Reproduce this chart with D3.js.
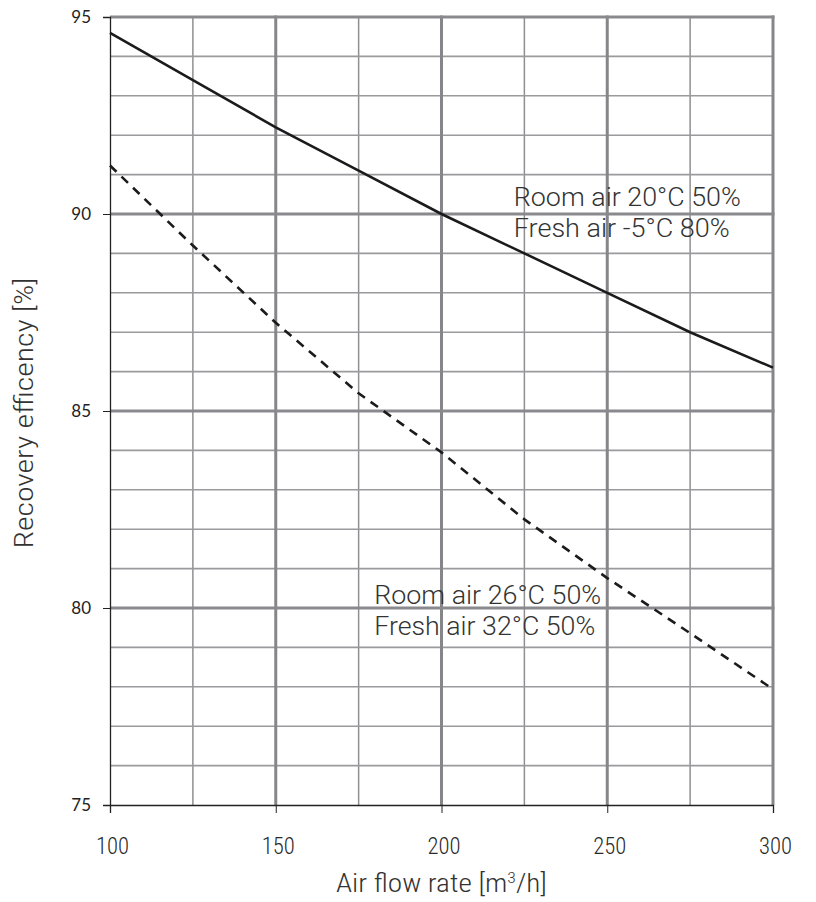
<!DOCTYPE html>
<html>
<head>
<meta charset="utf-8">
<script src="https://cdn.jsdelivr.net/npm/d3@7"></script>
<style>
  html, body { margin: 0; padding: 0; background: #fff; }
  svg { display: block; }
</style>
</head>
<body>
<svg id="chart" width="816" height="902"></svg>
<script>
// ---- data ----
const flowRates = [100, 125, 150, 175, 200, 225, 250, 275, 300];
const winterEfficiency = [94.6, 93.4, 92.2, 91.1, 90.0, 89.0, 88.0, 87.0, 86.1];
const summerEfficiency = [91.23, 89.2, 87.24, 85.45, 83.95, 82.25, 80.76, 79.36, 77.94];
const xTickValues = [100, 150, 200, 250, 300];
const yTickValues = [75, 80, 85, 90, 95];
const winterLabel = ["Room air 20°C 50%", "Fresh air -5°C 80%"];
const summerLabel = ["Room air 26°C 50%", "Fresh air 32°C 50%"];
const xTitle = "Air flow rate [m³/h]";
const yTitle = "Recovery efficency [%]";

// ---- layout ----
const svg = d3.select("#chart");
const pLeft = 110, pRight = 773, pTop = 17, pBottom = 805;
const x = d3.scaleLinear().domain([100, 300]).range([pLeft, pRight]);
const y = d3.scaleLinear().domain([75, 95]).range([pBottom, pTop]);

const minorX = d3.range(100, 301, 25).filter(v => v % 50 !== 0);
const minorY = d3.range(75, 96, 1).filter(v => v % 5 !== 0);

const grid = svg.append("g");
grid.selectAll(".mx").data(minorX).join("line")
  .attr("x1", d => x(d)).attr("x2", d => x(d)).attr("y1", pTop).attr("y2", pBottom)
  .attr("stroke", "#8f8f92").attr("stroke-width", 1.5);
grid.selectAll(".my").data(minorY).join("line")
  .attr("x1", pLeft).attr("x2", pRight).attr("y1", d => y(d)).attr("y2", d => y(d))
  .attr("stroke", "#9a9a9d").attr("stroke-width", 1.6);
grid.selectAll(".Mx").data(xTickValues.filter(v => v !== 100)).join("line")
  .attr("x1", d => x(d)).attr("x2", d => x(d)).attr("y1", pTop - 1.5).attr("y2", pBottom)
  .attr("stroke", "#86868a").attr("stroke-width", 3);
grid.selectAll(".My").data(yTickValues.filter(v => v !== 75)).join("line")
  .attr("x1", pLeft).attr("x2", pRight + 1.5).attr("y1", d => y(d)).attr("y2", d => y(d))
  .attr("stroke", "#8a8a8e").attr("stroke-width", 3);

const condFont = "'Liberation Sans Narrow', 'Roboto Condensed', 'Liberation Sans', sans-serif";

const xAxis = svg.append("g").attr("transform", `translate(0,${pBottom})`)
  .call(d3.axisBottom(x).tickValues(xTickValues).tickSize(8).tickPadding(25).tickFormat(d3.format("d")));
const yAxis = svg.append("g").attr("transform", `translate(${pLeft},0)`)
  .call(d3.axisLeft(y).tickValues(yTickValues).tickSize(7).tickPadding(12).tickFormat(d3.format("d")));
[xAxis, yAxis].forEach(a => {
  a.select(".domain").attr("stroke", "#222").attr("stroke-width", 1.3);
  a.selectAll(".tick line").attr("stroke", "#222").attr("stroke-width", 1);
});
xAxis.selectAll(".tick text").attr("fill", "#2a2a2a")
  .attr("dx", 2)
  .style("font-family", condFont).style("font-weight", 300)
  .style("font-size", "23px")
  .attr("textLength", 33).attr("lengthAdjust", "spacingAndGlyphs");
yAxis.selectAll(".tick text").attr("fill", "#222")
  .style("font-family", "Lato, 'Open Sans', sans-serif")
  .style("font-size", "17px");

const line = d3.line().x((d, i) => x(flowRates[i])).y(d => y(d));
svg.append("path").datum(winterEfficiency).attr("d", line)
  .attr("fill", "none").attr("stroke", "#1b1b1b").attr("stroke-width", 2.6);
svg.append("path").datum(summerEfficiency).attr("d", line)
  .attr("fill", "none").attr("stroke", "#1b1b1b").attr("stroke-width", 2.6)
  .attr("stroke-dasharray", "9,7");

const annFont = "Roboto, 'Liberation Sans', sans-serif";
function annotate(lines, xv, yv, widths) {
  const t = svg.append("text").attr("fill", "#333")
    .style("font-family", annFont).style("font-weight", 300).style("font-size", "26px");
  lines.forEach((s, i) => {
    t.append("tspan").attr("x", x(xv)).attr("y", y(yv) + i * 31)
      .attr("textLength", widths[i]).attr("lengthAdjust", "spacingAndGlyphs").text(s);
  });
}
annotate(winterLabel, 221.8, 90.2, [227, 216]);
annotate(summerLabel, 179.7, 80.1, [227, 221]);

const xt = svg.append("text").attr("x", (pLeft + pRight) / 2).attr("y", 892)
  .attr("text-anchor", "middle").attr("fill", "#333")
  .style("font-family", condFont).style("font-weight", 300)
  .style("font-size", "25px")
  .attr("textLength", 211).attr("lengthAdjust", "spacingAndGlyphs");
xt.append("tspan").text("Air flow rate [m");
xt.append("tspan").attr("dy", -9).style("font-size", "15px").text("3");
xt.append("tspan").attr("dy", 9).text("/h]");

svg.append("text").attr("transform", `translate(33,${(pTop + pBottom) / 2 + 2}) rotate(-90)`)
  .attr("text-anchor", "middle").attr("fill", "#333")
  .style("font-family", condFont).style("font-weight", 300)
  .style("font-size", "25px")
  .attr("textLength", 271).attr("lengthAdjust", "spacingAndGlyphs")
  .text(yTitle);
</script>
</body>
</html>
